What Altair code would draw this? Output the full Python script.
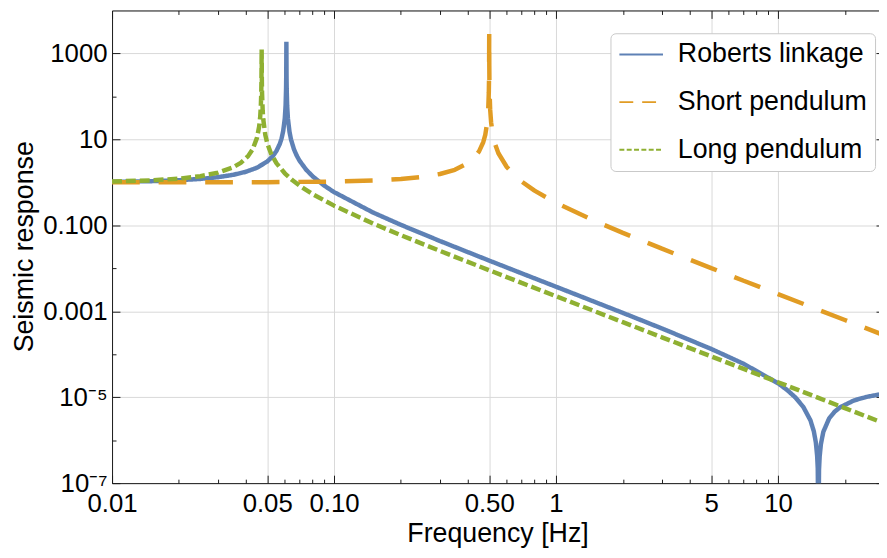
import math
import altair as alt
import pandas as pd

FONT = "Liberation Sans"
FRAME = "#1a1a1a"
GRID = "#d9d9d9"

series_names = ["Roberts linkage", "Short pendulum", "Long pendulum"]
series_colors = ["#5E81B5", "#E19C24", "#8FB032"]
series_dashes = [[1, 0], [28, 19], [10, 4]]
legend_dashes = [[1, 0], [14, 9], [5, 2.4]]

roberts_f = [0.01, 0.015, 0.02, 0.025, 0.03, 0.035, 0.04, 0.045, 0.05, 0.053, 0.055, 0.057,
             0.058, 0.059, 0.06, 0.0605, 0.0608, 0.0609, 0.061, 0.0611, 0.0612, 0.0615, 0.062,
             0.063, 0.064, 0.066, 0.068, 0.07, 0.075, 0.08, 0.09, 0.1, 0.15, 0.2, 0.3, 0.5, 0.7,
             1, 2, 3, 5, 7, 10, 11, 12, 13, 14, 14.5, 14.8, 15, 15.1, 15.2, 15.3, 15.4, 15.6,
             16, 17, 18, 19, 22, 25, 28, 30]
roberts_v = [1.028, 1.064, 1.120, 1.202, 1.319, 1.491, 1.754, 2.194, 3.048, 4.080, 5.346, 7.883,
             10.42, 15.50, 30.75, 61.25, 152.7, 305.2, 1880, 304.8, 152.2, 60.75, 30.25,
             15.00, 9.923, 5.860, 4.121, 3.156, 1.954, 1.389, 0.8497, 0.5926, 0.1981, 0.1026,
             0.04311, 0.01509, 0.007636, 0.003719, 0.000915, 0.0003975, 0.0001328, 0.00005984,
             0.00002111, 0.00001465, 0.000009741, 0.000005918, 0.000002885, 0.000001598,
             0.000000888, 0.000000438, 0.000000219, 0.0000000054, 0.000000205, 0.000000410,
             0.00000081, 0.000001565, 0.000003225, 0.000004615, 0.000005793, 0.000008412,
             0.000010146, 0.000011354, 0.000011966]

short_f = [0.01, 0.02, 0.05, 0.1, 0.15, 0.2, 0.25, 0.3, 0.35, 0.4, 0.43, 0.45, 0.47, 0.48, 0.49,
           0.495, 0.498, 0.499, 0.4995, 0.5, 0.5005, 0.501, 0.502, 0.505, 0.51, 0.52, 0.53,
           0.55, 0.6, 0.65, 0.7, 0.8, 1, 1.5, 2, 3, 5, 7, 10, 15, 20, 30]
short_v = [1.0004, 1.0016, 1.0101, 1.0417, 1.0989, 1.1905, 1.3333, 1.5625, 1.9608, 2.778, 3.840,
           5.263, 8.591, 12.76, 25.25, 50.25, 125.3, 250.3, 500.3, 2870, 499.8, 249.8, 124.8,
           49.75, 24.75, 12.25, 8.091, 4.762, 2.273, 1.4493, 1.0417, 0.6410, 0.3333, 0.125,
           0.06667, 0.02857, 0.010101, 0.005128, 0.002506, 0.001112, 0.0006254, 0.0002778]

long_f = [0.01, 0.015, 0.02, 0.025, 0.03, 0.035, 0.038, 0.041, 0.043, 0.045, 0.046, 0.0465,
          0.0468, 0.047, 0.0471, 0.0472, 0.0473, 0.0474, 0.0477, 0.048, 0.049, 0.05, 0.052,
          0.055, 0.06, 0.065, 0.07, 0.08, 0.1, 0.15, 0.2, 0.3, 0.5, 0.7, 1, 2, 3, 5, 7, 10,
          15, 20, 30]
long_v = [1.047, 1.112, 1.219, 1.390, 1.678, 2.222, 2.842, 4.074, 5.881, 10.98, 19.92, 33.97,
          59.25, 118.2, 236.2, 1230, 235.7, 117.7, 46.95, 29.25, 12.87, 8.186, 4.679,
          2.795, 1.624, 1.116, 0.8337, 0.534, 0.2866, 0.1099, 0.05898, 0.02538, 0.008992,
          0.004567, 0.002233, 0.0005573, 0.0002476, 0.00008912, 0.00004547, 0.00002228,
          0.000009902, 0.000005570, 0.000002475]

x_label_values = [0.01, 0.05, 0.1, 0.5, 1, 5, 10]
x_label_text = ["0.01", "0.05", "0.10", "0.50", "1", "5", "10"]
x_minor_values = [0.02, 0.03, 0.04, 0.06, 0.07, 0.08, 0.09, 0.2, 0.3, 0.4, 0.6, 0.7, 0.8, 0.9,
                  2, 3, 4, 6, 7, 8, 9, 20]
y_label_values = [1e-7, 1e-5, 1e-3, 0.1, 10, 1000]
y_label_text = ["10⁻⁷", "10⁻⁵", "0.001", "0.100", "10", "1000"]
y_minor_values = [1e-6, 1e-4, 1e-2, 1, 100]

x_domain = [0.01, 28.5]
y_domain = [1e-7, 1e4]

series_f = [roberts_f, short_f, long_f]
series_v = [roberts_v, short_v, long_v]

records = []
for name, fs, vs in zip(series_names, series_f, series_v):
    for f, v in zip(fs, vs):
        records.append({"series": name, "f": f, "v": v})
df = pd.DataFrame(records)


def label_expr(vals, texts):
    expr = "''"
    for v, t in reversed(list(zip(vals, texts))):
        expr = f"abs(log(datum.value)/LN10 - ({math.log10(v):.6f})) < 0.01 ? '{t}' : ({expr})"
    return expr


xs = alt.Scale(type="log", domain=x_domain, nice=False)
ys = alt.Scale(type="log", domain=y_domain, nice=False)
color_scale = alt.Scale(domain=series_names, range=series_colors)

legend = alt.Legend(
    title=None, orient="none", legendX=503, legendY=23,
    labelFont=FONT, labelFontSize=27, labelColor="black", labelOffset=14, labelLimit=400,
    symbolType="stroke", symbolSize=1936, symbolStrokeWidth=2, symbolOpacity=1,
    clipHeight=27, padding=8, rowPadding=20, cornerRadius=5,
    strokeColor="#c8c8c8", fillColor="white",
)

main_x_axis = alt.Axis(
    orient="bottom", values=x_label_values, labelExpr=label_expr(x_label_values, x_label_text),
    labelFont=FONT, labelFontSize=26, labelColor="black", labelPadding=8,
    labelFlush=False, labelOverlap=False, labelBaseline="top",
    ticks=False, tickSize=0, grid=True, gridColor=GRID, gridWidth=1,
    domain=True, domainColor=FRAME, domainWidth=1,
    titleFont=FONT, titleFontSize=27, titleColor="black", titleFontWeight="normal",
    titleBaseline="alphabetic", titleX=389, titleY=59, titleAlign="center")
main_y_axis = alt.Axis(
    orient="left", values=y_label_values, labelExpr=label_expr(y_label_values, y_label_text),
    labelFont=FONT, labelFontSize=26, labelColor="black", labelPadding=5,
    labelFlush=False, labelOverlap=False, labelAlign="right", labelBaseline="middle",
    ticks=False, tickSize=0, grid=True, gridColor=GRID, gridWidth=1,
    domain=True, domainColor=FRAME, domainWidth=1,
    titleFont=FONT, titleFontSize=27, titleColor="black", titleFontWeight="normal",
    titleAngle=270, titleBaseline="alphabetic", titleX=-80, titleY=238, titleAlign="center")

layers = []
for i, (name, dash) in enumerate(zip(series_names, series_dashes)):
    sub = df[df["series"] == name]
    if i == 0:
        xenc = alt.X("f:Q", scale=xs, title="Frequency [Hz]", axis=main_x_axis)
        yenc = alt.Y("v:Q", scale=ys, title="Seismic response", axis=main_y_axis)
    else:
        xenc = alt.X("f:Q", scale=xs, axis=None)
        yenc = alt.Y("v:Q", scale=ys, axis=None)
    layers.append(
        alt.Chart(sub).mark_line(clip=True, strokeWidth=4.5, strokeCap="butt",
                                 strokeJoin="bevel", strokeDash=dash).encode(
            x=xenc, y=yenc,
            color=alt.Color("series:N", scale=color_scale, legend=legend),
        )
    )

# legend-only layer (no rows drawn): gives the legend its dashed symbols
layers.append(
    alt.Chart(df).transform_filter("false").mark_line(strokeWidth=2).encode(
        x=alt.X("f:Q", scale=xs, axis=None),
        y=alt.Y("v:Q", scale=ys, axis=None),
        color=alt.Color("series:N", scale=color_scale, legend=legend),
        strokeDash=alt.StrokeDash("series:N", scale=alt.Scale(domain=series_names, range=legend_dashes),
                                  legend=legend),
    )
)


def tick_axis(orient, values, size):
    return alt.Axis(orient=orient, values=values, labels=False, domain=False, grid=False,
                    ticks=True, tickSize=size, offset=-size, tickColor=FRAME, tickWidth=1)


def helper(x_axis, y_axis):
    return alt.Chart(df).mark_point(opacity=0).encode(
        x=alt.X("f:Q", scale=xs, title=None, axis=x_axis),
        y=alt.Y("v:Q", scale=ys, title=None, axis=y_axis),
    )


top_frame = alt.Axis(orient="top", labels=False, ticks=False, grid=False, domain=True,
                     domainColor=FRAME, domainWidth=1, values=x_label_values)
right_ticks = alt.Axis(orient="right", values=y_label_values, labels=False, domain=False,
                       grid=False, ticks=True, tickSize=3, offset=-3, tickColor=FRAME, tickWidth=1)

layers += [
    helper(top_frame, right_ticks),
    helper(tick_axis("bottom", x_label_values, 8), tick_axis("left", y_label_values, 8)),
    helper(tick_axis("bottom", x_minor_values, 4), tick_axis("left", y_minor_values, 4)),
    helper(tick_axis("top", x_label_values, 8), None),
    helper(tick_axis("top", x_minor_values, 4), None),
]

chart = alt.layer(*layers).resolve_scale(x="shared", y="shared").resolve_axis(
    x="independent", y="independent"
).properties(
    width=774, height=477, autosize="none",
    padding={"left": 105, "top": 0, "right": 0, "bottom": 65},
).configure_view(stroke=None).configure(background="white")

chart.save("out.html", embed_options={"renderer": "svg", "actions": False})
